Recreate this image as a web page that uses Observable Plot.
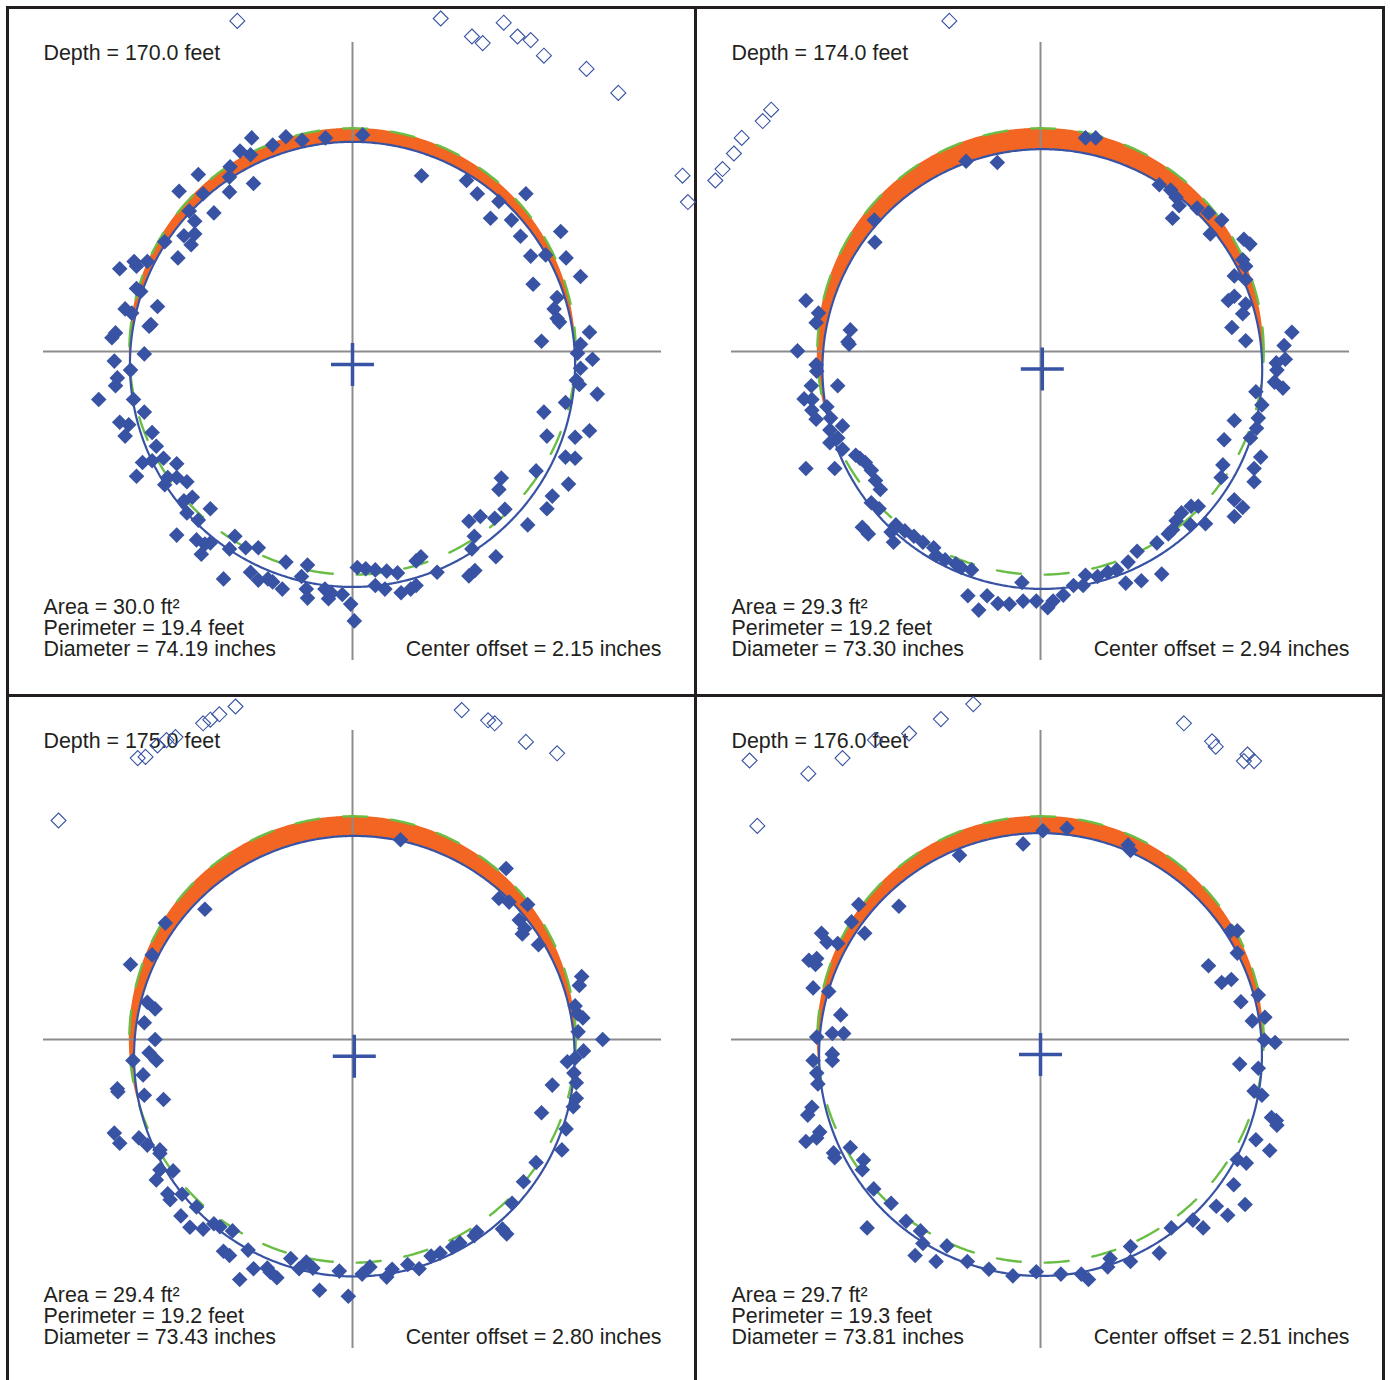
<!DOCTYPE html>
<html><head><meta charset="utf-8">
<script src="https://cdn.jsdelivr.net/npm/d3@7"></script>
<script src="https://cdn.jsdelivr.net/npm/@observablehq/plot@0.6"></script>
<style>
body{margin:0;background:#fff;}
#grid{position:absolute;left:6px;top:6px;background:#231f20;padding:3px;display:grid;grid-template-columns:685px 685px;grid-template-rows:685px 685px;gap:3px;}
.panel{background:#fff;width:685px;height:685px;overflow:visible;}
.panel svg{overflow:visible;display:block;}
</style></head><body><div id="grid"></div>
<script>
// ---- panel annotations ----
const depths = [170.0, 174.0, 175.0, 176.0];
const areas = [30.0, 29.3, 29.4, 29.7];
const perimeters = [19.4, 19.2, 19.2, 19.3];
const diameters = [74.19, 73.30, 73.43, 73.81];
const centerOffsets = [2.15, 2.94, 2.80, 2.51];
const centerOffsetX = [0, 0.3, 0.3, 0];
const nominalDiameter = 74.4; // green dashed reference circle

// ---- caliper readings (inches, relative to nominal centre) ----
const filled170 = [
[-16.8,35.6],[-18.75,33.4],[-17.0,32.8],[-20.4,30.8],[-20.5,29.1],[-25.7,29.5],[-16.5,28.0],[-11.1,35.8],[-13.3,34.4],[-8.4,35.2],[-4.5,35.6],[1.7,36.1],[11.5,29.3],
[-28.9,26.7],[-24.9,26.3],[-20.5,26.6],[-27.2,23.4],[-23.1,23.1],[-26.3,21.7],[-28.1,19.3],[-26.3,19.6],[-26.9,17.8],[-31.3,18.3],[-29.1,15.6],
[-38.8,13.8],[-36.4,15.0],[-36.0,14.2],[-34.2,15.0],[-35.3,10.0],[-36.0,10.5],[-32.5,7.5],[-37.9,7.1],[-36.8,6.4],[-33.9,4.2],[-33.6,4.5],
[-39.5,3.1],[-40.1,2.3],[-34.7,-0.4],[-39.7,-1.6],[-37.0,-3.1],[-39.2,-4.4],[-39.5,-5.7],[-42.3,-8.0],[-36.5,-8.0],[-34.7,-10.1],[-38.8,-11.8],[-37.3,-12.2],[-37.9,-14.1],[-33.4,-13.5],
[19.0,28.5],[20.8,26.3],[24.4,25.0],[23.0,22.2],[26.5,21.9],[28.9,26.3],[28.0,19.2],[29.7,15.9],[32.2,16.1],[34.7,20.0],[35.6,15.6],[38.0,12.5],[30.1,11.2],[34.1,9.0],[33.6,7.1],[34.1,5.5],[34.5,4.9],[39.5,3.2],[31.5,1.7],[38.0,1.2],[37.5,-0.3],[40.0,-1.3],[38.0,-2.8],[37.3,-4.8],[37.8,-5.5],[40.8,-7.1],[35.5,-8.5],[31.9,-10.1],[39.5,-13.2],[37.1,-14.3],[32.4,-14.1],[35.5,-17.6],[37.1,-17.8],[36.0,-22.1],[30.6,-19.9],[24.8,-21.1],[24.4,-23.0],[33.3,-24.1],[32.4,-26.2],[29.2,-28.9],[25.4,-26.3],[23.7,-27.8],[21.3,-27.5],[19.4,-28.3],[20.3,-30.8],[19.9,-32.9],[23.9,-34.2],[20.4,-36.5],[19.4,-37.4],[14.1,-36.8],[11.4,-34.2],[10.6,-34.9],
[-32.7,-15.8],[-31.5,-17.8],[-33.4,-18.2],[-35.0,-18.5],[-36.0,-20.8],[-29.3,-18.7],[-29.3,-21.0],[-30.8,-21.0],[-27.6,-21.7],[-31.3,-22.2],[-26.7,-24.3],[-28.1,-24.9],[-27.6,-26.9],[-25.7,-28.1],[-23.7,-26.2],[-29.3,-30.6],[-26.0,-31.4],[-24.6,-32.1],[-25.2,-33.8],[-23.7,-31.9],[-21.5,-37.9],[-19.6,-30.8],[-20.5,-32.9],[-17.8,-32.7],[-15.7,-32.7],[-17.0,-36.8],[-15.7,-38.1],[-14.1,-37.9],[-13.3,-38.4],[-11.7,-39.6],[-11.1,-35.1],[-8.5,-37.5],[-7.5,-35.6],[-7.7,-39.6],[-7.5,-41.1],[-4.6,-39.6],[-4.0,-41.2],[-3.5,-40.3],[-1.7,-40.5],[-0.3,-42.1],[0.3,-44.9],[0.8,-36.0],[2.2,-36.2],[3.8,-36.4],[5.7,-36.6],[7.5,-36.9],[3.8,-39.0],[5.4,-39.6],[8.1,-40.2],[9.7,-39.6],[10.6,-39.0]
];
const open170 = [[-19.2,55.1],[14.7,55.5],[19.9,52.5],[21.7,51.4],[25.2,54.8],[27.5,52.5],[29.7,51.9],[31.9,49.3],[39.0,47.1],[44.3,43.1],[55.0,29.3],[55.9,24.9]];

const filled174 = [
[7.5,35.6],[9.2,35.6],[-12.4,31.7],[-7.2,31.5],[-27.7,21.9],[-27.6,18.2],
[19.8,27.8],[21.7,26.9],[22.6,25.7],[23.1,24.3],[22.0,22.2],[26.1,23.9],[28.0,23.1],[30.2,21.9],[28.3,19.6],[33.9,18.7],[34.9,17.9],[33.7,15.3],[34.2,14.2],[32.3,12.6],[34.2,12.0],[32.3,9.2],[31.3,8.5],[34.2,7.9],[33.7,6.3],[31.9,4.0],[34.2,1.8],
[41.9,3.2],[40.6,1.0],[40.8,-1.3],[39.3,-1.9],[39.4,-3.1],[39.0,-5.1],[40.4,-6.1],[35.9,-6.7],[36.9,-8.9],[36.3,-11.1],[32.3,-11.5],[36.0,-12.8],[35.0,-14.4],[30.6,-14.7],[36.7,-17.6],[35.6,-19.5],[35.6,-21.7],[30.4,-18.9],[30.1,-21.0],[32.3,-24.7],[33.7,-26.0],[32.3,-27.5],[27.5,-28.7],[26.3,-25.8],[25.1,-25.8],[23.5,-26.9],[22.6,-28.2],[22.0,-29.7],[21.3,-30.4],[19.4,-31.9],[25.0,-28.9],[16.1,-33.3],[14.6,-35.1],[20.2,-37.1],[16.8,-38.2],[14.2,-38.6],[12.7,-36.4],[11.2,-36.8],[9.5,-37.5],[7.5,-37.3],[7.1,-39.0],[5.5,-39.0],[3.8,-40.6],[2.1,-41.6],[1.2,-42.7],[-0.7,-41.6],[-2.9,-41.6],[-3.1,-38.5],[-5.2,-42.1],[-7.1,-42.0],[-8.9,-40.7],[-10.3,-43.1],[-12.1,-40.7],
[-39.1,8.5],[-37.0,6.4],[-37.4,4.8],[-31.7,3.6],[-32.1,1.6],[-31.9,1.2],[-40.5,0.1],[-37.4,-2.2],[-37.3,-3.3],[-38.2,-5.7],[-33.8,-5.7],[-39.4,-7.9],[-38.1,-8.0],[-38.1,-9.8],[-37.4,-11.3],[-35.6,-9.2],[-35.0,-11.1],[-33.0,-12.4],[-35.1,-13.1],[-35.1,-15.2],[-33.8,-14.4],[-33.0,-16.3],[-39.1,-19.5],[-34.3,-19.5],[-30.8,-17.3],[-30.1,-17.8],[-29.2,-18.5],[-28.2,-19.8],[-27.5,-21.5],[-26.7,-23.0],[-28.2,-25.2],[-26.9,-26.2],[-29.7,-29.3],[-28.7,-30.4],[-24.5,-31.8],[-24.1,-28.9],[-24.9,-30.1],[-22.6,-29.9],[-21.1,-30.8],[-19.6,-31.8],[-17.8,-32.7],[-17.4,-34.0],[-15.9,-34.7],[-14.1,-35.4],[-13.2,-36.0],[-11.5,-36.4]
];
const open174 = [[-15.2,55.1],[-44.9,40.3],[-46.3,38.4],[-49.8,35.6],[-51.1,33.0],[-53.0,30.4],[-54.2,28.5]];

const filled175 = [
[8.0,33.3],[25.6,28.5],[24.4,23.5],[26.1,22.9],[29.2,22.5],[27.8,19.9],[28.7,18.5],[28.3,17.6],[31.0,15.8],[38.2,10.5],[37.8,9.0],[37.1,5.6],[37.5,4.3],[38.4,3.6],[37.6,1.3],[41.7,0.0],[38.5,-1.9],[37.1,-3.1],[35.8,-3.7],[36.9,-5.6],[37.3,-7.2],[33.3,-7.6],[37.3,-9.8],[36.8,-11.2],[31.5,-12.2],[35.6,-14.9],[34.9,-18.4],[30.6,-20.5],[28.5,-23.7],[26.6,-27.3],[25.0,-31.6],[25.7,-32.4],[20.7,-32.1],[20.3,-32.7],[17.9,-33.9],[16.7,-34.6],[14.6,-35.6],[13.1,-36.1],[11.1,-38.2],[9.2,-37.5],[6.6,-38.3],[5.7,-39.6],[2.9,-37.9],[1.6,-39.1],
[-24.6,21.7],[-31.2,19.4],[-33.4,14.1],[-37.0,12.5],[-34.2,6.2],[-32.9,5.1],[-34.7,2.8],[-32.9,0.0],[-33.9,-2.2],[-32.7,-3.5],[-36.6,-3.5],[-34.9,-5.9],[-39.2,-8.2],[-39.1,-8.7],[-34.7,-9.3],[-31.5,-10.0],[-39.7,-15.6],[-38.8,-17.3],[-35.6,-16.4],[-34.2,-17.6],[-32.1,-18.4],[-32.1,-19.0],[-32.1,-21.7],[-29.9,-21.9],[-32.7,-23.4],[-30.8,-25.7],[-30.4,-26.7],[-28.4,-25.8],[-26.0,-27.9],[-28.6,-29.4],[-27.1,-31.3],[-24.9,-31.6],[-23.1,-30.7],[-22.1,-31.2],[-20.0,-31.9],[-21.5,-35.3],[-20.5,-36.0],[-17.4,-35.1],[-18.8,-40.0],[-16.5,-38.2],[-14.2,-38.1],[-13.7,-38.8],[-12.6,-39.7],[-10.3,-36.5],[-8.9,-38.2],[-7.7,-37.1],[-6.6,-38.1],[-5.5,-41.8],[-2.2,-38.6],[-0.7,-42.8]
];
const open175 = [[-19.5,55.5],[-22.2,54.2],[-23.7,53.3],[-24.9,52.7],[-29.5,50.4],[-31.0,49.9],[-32.5,49.0],[-34.5,47.1],[-35.8,46.9],[-49.0,36.5],[18.2,54.9],[22.6,53.2],[23.7,52.7],[28.9,49.6],[34.1,47.7]];

const filled176 = [
[0.4,34.8],[4.4,35.2],[-2.9,32.6],[-13.5,30.7],[14.6,32.4],[15.0,31.5],[-23.6,22.2],[-30.3,22.5],[-31.5,19.6],[-29.3,17.7],[-33.8,16.0],[-36.5,17.7],[-35.6,16.2],[-38.6,13.2],[-37.3,13.5],[-37.5,12.5],[-37.9,8.6],[-35.3,8.0],[-33.3,4.1],[-34.7,1.0],[-32.8,1.0],[-37.3,0.4],
[31.7,18.1],[32.8,18.1],[32.8,14.4],[28.0,12.3],[30.2,9.5],[31.8,10.0],[33.4,6.3],[36.3,7.4],[37.4,3.7],[35.3,3.1],[37.3,-0.1],[39.1,-0.5],[33.2,-4.1],[36.3,-4.8],[35.6,-8.6],[36.9,-9.3],[38.5,-13.0],[39.3,-13.5],[39.4,-14.3],[35.9,-16.7],[38.2,-18.5],[32.8,-20.0],[34.3,-20.6],[32.2,-24.2],[34.1,-27.5],[29.3,-27.8],[31.2,-29.3],[27.1,-31.4],[25.4,-30.1],[21.8,-31.4],[19.8,-35.6],[15.0,-34.5],[15.0,-37.0],[11.6,-36.5],[11.2,-37.9],[8.0,-40.0],[6.8,-39.1],[3.4,-39.1],[-0.7,-38.7],[-4.6,-39.4],[-8.6,-38.3],[-12.2,-37.0],[-15.6,-34.4],[-17.4,-37.0],[-20.0,-31.9],[-19.6,-34.0],[-20.9,-36.0],[-22.4,-30.3],[-24.9,-27.3],[-27.8,-24.9],[-28.9,-31.4],[-29.7,-21.7],[-29.5,-20.1],[-31.7,-18.0],[-34.5,-18.9],[-34.3,-19.7],
[-34.7,-2.4],[-34.7,-3.5],[-37.9,-3.5],[-37.3,-5.6],[-37.1,-7.4],[-38.1,-11.3],[-38.8,-12.6],[-36.8,-15.4],[-37.3,-16.4],[-39.1,-17.0]
];
const open176 = [[-11.2,55.9],[-16.6,53.4],[-21.9,51.0],[-27.6,49.9],[-33.0,46.9],[-38.7,44.3],[-48.5,46.5],[-47.2,35.6],[23.9,52.7],[28.6,49.7],[29.2,48.8],[34.5,47.5],[33.9,46.4],[35.6,46.4]];

const filledSets = [filled170, filled174, filled175, filled176];
const openSets = [open170, open174, open175, open176];

// ---- styling / layout ----
const BLUE = "#3953a4", ORANGE = "#f26522", GREEN = "#6abd45", GRAY = "#8c8c8c", INK = "#231f20";
const FONT = "'Liberation Sans', Arial, Helvetica, sans-serif";
const L = 51.5; // half-length of crosshair
const DOMAIN = [-57.17, 57.0];

const diamondSym = {draw(ctx, size) { const r = Math.sqrt(size / Math.PI); ctx.moveTo(0, -r); ctx.lineTo(r, 0); ctx.lineTo(0, r); ctx.lineTo(-r, 0); ctx.closePath(); }};
const plusSym = {draw(ctx, size) { const r = Math.sqrt(size / Math.PI); ctx.moveTo(-r, 0); ctx.lineTo(r, 0); ctx.moveTo(0, -r); ctx.lineTo(0, r); }};

const N = 720;
function circle(cx, cy, r) {
  return d3.range(N + 1).map(i => { const t = 2 * Math.PI * i / N; return {x: cx + r * Math.cos(t), y: cy + r * Math.sin(t)}; });
}
// region inside the reference circle (radius R at origin) but outside the fitted circle (cx, cy, r)
function crescent(R, cx, cy, r) {
  return d3.range(N + 1).map(i => {
    const x = -R * Math.cos(Math.PI * i / N);
    const sg = Math.sqrt(Math.max(0, R * R - x * x));
    const dxb = x - cx;
    if (Math.abs(dxb) > r) return {x, u1: -sg, u2: sg, l1: -sg, l2: -sg};
    const sb = Math.sqrt(r * r - dxb * dxb);
    const top = cy + sb, bot = cy - sb;
    const u1 = Math.min(Math.max(top, -sg), sg);
    const l2 = Math.max(Math.min(bot, sg), -sg);
    return {x, u1, u2: sg, l1: -sg, l2};
  });
}

const grid = document.getElementById("grid");
depths.forEach((depth, k) => {
  const r = diameters[k] / 2;
  const R = nominalDiameter / 2;
  const cx = centerOffsetX[k];
  const cy = -Math.sqrt(centerOffsets[k] ** 2 - cx * cx);
  const cres = crescent(R, cx, cy, r);
  const txt = {fontSize: 21.4, fontFamily: FONT, fill: INK};
  const chart = Plot.plot({
    width: 685, height: 685, margin: 0,
    x: {domain: DOMAIN, axis: null},
    y: {domain: DOMAIN, axis: null},
    style: {background: "white", overflow: "visible"},
    marks: [
      Plot.areaY(cres, {x: "x", y1: "u1", y2: "u2", fill: ORANGE}),
      Plot.areaY(cres, {x: "x", y1: "l1", y2: "l2", fill: ORANGE}),
      Plot.ruleY([0], {x1: -L, x2: L, stroke: GRAY, strokeWidth: 2}),
      Plot.ruleX([0], {y1: -L, y2: L, stroke: GRAY, strokeWidth: 2}),
      Plot.line(circle(0, 0, R), {x: "x", y: "y", stroke: GREEN, strokeWidth: 2.4, strokeDasharray: "24,24"}),
      Plot.line(circle(cx, cy, r), {x: "x", y: "y", stroke: BLUE, strokeWidth: 2.2}),
      Plot.dot(filledSets[k], {x: d => d[0], y: d => d[1], symbol: diamondSym, r: 7.8, fill: BLUE, stroke: null}),
      Plot.dot([[cx, cy]], {x: d => d[0], y: d => d[1], symbol: plusSym, r: 21.5, fill: "none", stroke: BLUE, strokeWidth: 3.5}),
      Plot.text([`Depth = ${depth.toFixed(1)} feet`], {x: -L, y: L, text: d => d, textAnchor: "start", lineAnchor: "top", dy: 2, ...txt}),
      Plot.text([`Area = ${areas[k].toFixed(1)} ft²\nPerimeter = ${perimeters[k].toFixed(1)} feet\nDiameter = ${diameters[k].toFixed(2)} inches`],
        {x: -L, y: -L, text: d => d, textAnchor: "start", lineAnchor: "bottom", lineHeight: 1.0, dy: -4, ...txt}),
      Plot.text([`Center offset = ${centerOffsets[k].toFixed(2)} inches`], {x: L, y: -L, text: d => d, textAnchor: "end", lineAnchor: "bottom", dy: -4, ...txt}),
      Plot.dot(openSets[k], {x: d => d[0], y: d => d[1], symbol: diamondSym, r: 7.5, fill: "none", stroke: BLUE, strokeWidth: 1.1})
    ]
  });
  const div = document.createElement("div");
  div.className = "panel";
  div.appendChild(chart);
  grid.appendChild(div);
});
</script></body></html>
